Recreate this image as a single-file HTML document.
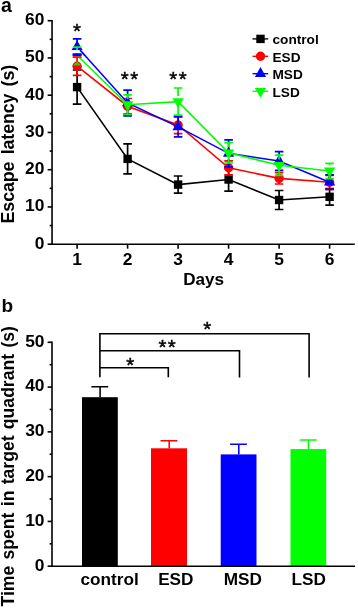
<!DOCTYPE html>
<html><head><meta charset="utf-8"><title>Figure</title>
<style>
html,body{margin:0;padding:0;background:#fff;}
svg{display:block;font-family:"Liberation Sans", sans-serif;}
</style></head><body>
<svg width="358" height="609" viewBox="0 0 358 609">
<rect width="358" height="609" fill="#fff"/>
<g stroke="#000" stroke-width="1.6" fill="none" stroke-linecap="butt">
<path d="M52.05 19.90V245.0"/>
<path d="M51.25 244.2H354.8"/>
<path d="M47.65 244.20H52.05"/>
<path d="M47.65 206.95H52.05"/>
<path d="M47.65 169.70H52.05"/>
<path d="M47.65 132.45H52.05"/>
<path d="M47.65 95.20H52.05"/>
<path d="M47.65 57.95H52.05"/>
<path d="M47.65 20.70H52.05"/>
<path d="M49.65 225.57H52.05"/>
<path d="M49.65 188.32H52.05"/>
<path d="M49.65 151.07H52.05"/>
<path d="M49.65 113.82H52.05"/>
<path d="M49.65 76.57H52.05"/>
<path d="M49.65 39.32H52.05"/>
<path d="M77.1 244.2V248.7"/>
<path d="M127.6 244.2V248.7"/>
<path d="M178.1 244.2V248.7"/>
<path d="M228.6 244.2V248.7"/>
<path d="M279.1 244.2V248.7"/>
<path d="M329.6 244.2V248.7"/>
</g>
<text x="44.4" y="248.6" font-size="17.4" font-weight="bold" text-anchor="end" fill="#000">0</text>
<text x="44.4" y="211.35" font-size="17.4" font-weight="bold" text-anchor="end" fill="#000">10</text>
<text x="44.4" y="174.1" font-size="17.4" font-weight="bold" text-anchor="end" fill="#000">20</text>
<text x="44.4" y="136.85" font-size="17.4" font-weight="bold" text-anchor="end" fill="#000">30</text>
<text x="44.4" y="99.6" font-size="17.4" font-weight="bold" text-anchor="end" fill="#000">40</text>
<text x="44.4" y="62.35" font-size="17.4" font-weight="bold" text-anchor="end" fill="#000">50</text>
<text x="44.4" y="25.1" font-size="17.4" font-weight="bold" text-anchor="end" fill="#000">60</text>
<text x="77.1" y="265.0" font-size="17.4" font-weight="bold" text-anchor="middle" fill="#000">1</text>
<text x="127.6" y="265.0" font-size="17.4" font-weight="bold" text-anchor="middle" fill="#000">2</text>
<text x="178.1" y="265.0" font-size="17.4" font-weight="bold" text-anchor="middle" fill="#000">3</text>
<text x="228.6" y="265.0" font-size="17.4" font-weight="bold" text-anchor="middle" fill="#000">4</text>
<text x="279.1" y="265.0" font-size="17.4" font-weight="bold" text-anchor="middle" fill="#000">5</text>
<text x="329.6" y="265.0" font-size="17.4" font-weight="bold" text-anchor="middle" fill="#000">6</text>
<text x="203.6" y="285.3" font-size="17.1" font-weight="bold" text-anchor="middle" fill="#000">Days</text>
<text x="14.3" y="144.2" font-size="17.9" font-weight="bold" text-anchor="middle" fill="#000" transform="rotate(-90 14.3 144.2)" letter-spacing="-0.13" word-spacing="2.4">Escape latency (s)</text>
<text x="1.1" y="11.5" font-size="19.5" font-weight="bold" text-anchor="start" fill="#000">a</text>
<polyline points="77.10,87.10 127.60,158.90 178.10,184.60 228.60,179.50 279.10,200.00 329.60,196.80" stroke="#000" stroke-width="1.6" fill="none"/>
<g stroke="#000" stroke-width="1.7" fill="none">
<path d="M77.10 70.00V87.10M77.10 87.10V104.20M72.80 70.00h8.6M72.80 104.20h8.6"/>
<path d="M127.60 143.90V158.90M127.60 158.90V173.90M123.30 143.90h8.6M123.30 173.90h8.6"/>
<path d="M178.10 176.00V184.60M178.10 184.60V193.20M173.80 176.00h8.6M173.80 193.20h8.6"/>
<path d="M228.60 167.80V179.50M228.60 179.50V191.20M224.30 167.80h8.6M224.30 191.20h8.6"/>
<path d="M279.10 190.50V200.00M279.10 200.00V209.50M274.80 190.50h8.6M274.80 209.50h8.6"/>
<path d="M329.60 188.50V196.80M329.60 196.80V205.10M325.30 188.50h8.6M325.30 205.10h8.6"/>
</g>
<rect x="72.90" y="82.90" width="8.4" height="8.4" fill="#000"/>
<rect x="123.40" y="154.70" width="8.4" height="8.4" fill="#000"/>
<rect x="173.90" y="180.40" width="8.4" height="8.4" fill="#000"/>
<rect x="224.40" y="175.30" width="8.4" height="8.4" fill="#000"/>
<rect x="274.90" y="195.80" width="8.4" height="8.4" fill="#000"/>
<rect x="325.40" y="192.60" width="8.4" height="8.4" fill="#000"/>
<polyline points="77.10,66.20 127.60,106.20 178.10,125.00 228.60,167.80 279.10,178.35 329.60,182.30" stroke="#f00" stroke-width="1.6" fill="none"/>
<g stroke="#f00" stroke-width="1.7" fill="none">
<path d="M77.10 57.10V66.20M77.10 66.20V75.30M72.80 57.10h8.6M72.80 75.30h8.6"/>
<path d="M127.60 98.50V106.20M127.60 106.20V113.90M123.30 98.50h8.6M123.30 113.90h8.6"/>
<path d="M178.10 116.40V125.00M178.10 125.00V133.60M173.80 116.40h8.6M173.80 133.60h8.6"/>
<path d="M228.60 160.80V167.80M228.60 167.80V174.80M224.30 160.80h8.6M224.30 174.80h8.6"/>
<path d="M279.10 172.70V178.35M279.10 178.35V184.00M274.80 172.70h8.6M274.80 184.00h8.6"/>
<path d="M329.60 175.30V182.30M329.60 182.30V189.30M325.30 175.30h8.6M325.30 189.30h8.6"/>
</g>
<circle cx="77.10" cy="66.20" r="4.7" fill="#f00"/>
<circle cx="127.60" cy="106.20" r="4.7" fill="#f00"/>
<circle cx="178.10" cy="125.00" r="4.7" fill="#f00"/>
<circle cx="228.60" cy="167.80" r="4.7" fill="#f00"/>
<circle cx="279.10" cy="178.35" r="4.7" fill="#f00"/>
<circle cx="329.60" cy="182.30" r="4.7" fill="#f00"/>
<polyline points="77.10,46.80 127.60,102.95 178.10,126.90 228.60,153.35 279.10,161.00 329.60,182.15" stroke="#00f" stroke-width="1.6" fill="none"/>
<g stroke="#00f" stroke-width="1.7" fill="none">
<path d="M77.10 38.90V46.80M77.10 52.50V54.70M72.80 38.90h8.6M72.80 54.70h8.6"/>
<path d="M127.60 90.10V102.95M127.60 108.65V115.80M123.30 90.10h8.6M123.30 115.80h8.6"/>
<path d="M178.10 116.90V126.90M178.10 132.60V136.90M173.80 116.90h8.6M173.80 136.90h8.6"/>
<path d="M228.60 139.80V153.35M228.60 159.05V166.90M224.30 139.80h8.6M224.30 166.90h8.6"/>
<path d="M279.10 151.70V161.00M279.10 166.70V170.30M274.80 151.70h8.6M274.80 170.30h8.6"/>
<path d="M329.60 174.80V182.15M329.60 187.85V189.50M325.30 174.80h8.6M325.30 189.50h8.6"/>
</g>
<path d="M77.10 40.20L82.70 50.20H71.50Z" fill="#00f"/>
<path d="M127.60 96.35L133.20 106.35H122.00Z" fill="#00f"/>
<path d="M178.10 120.30L183.70 130.30H172.50Z" fill="#00f"/>
<path d="M228.60 146.75L234.20 156.75H223.00Z" fill="#00f"/>
<path d="M279.10 154.40L284.70 164.40H273.50Z" fill="#00f"/>
<path d="M329.60 175.55L335.20 185.55H324.00Z" fill="#00f"/>
<polyline points="77.10,55.30 127.60,104.70 178.10,101.60 228.60,152.80 279.10,165.30 329.60,171.00" stroke="#0f0" stroke-width="1.6" fill="none"/>
<g stroke="#0f0" stroke-width="1.7" fill="none">
<path d="M77.10 47.10V50M72.80 47.10h8.6"/>
<path d="M127.60 94.90V99.00M127.60 104.70V114.50M123.30 94.90h8.6M123.30 114.50h8.6"/>
<path d="M178.10 88.00V95.90M178.10 101.60V115.20M173.80 88.00h8.6M173.80 115.20h8.6"/>
<path d="M228.60 142.60V147.10M228.60 152.80V163.00M224.30 142.60h8.6M224.30 163.00h8.6"/>
<path d="M279.10 155.20V159.60M279.10 165.30V175.40M274.80 155.20h8.6M274.80 175.40h8.6"/>
<path d="M329.60 163.40V165.30M329.60 171.00V178.60M325.30 163.40h8.6M325.30 178.60h8.6"/>
</g>
<path d="M127.60 111.20L133.30 101.30H121.90Z" fill="#0f0"/>
<path d="M178.10 108.10L183.80 98.20H172.40Z" fill="#0f0"/>
<path d="M228.60 159.30L234.30 149.40H222.90Z" fill="#0f0"/>
<path d="M279.10 171.80L284.80 161.90H273.40Z" fill="#0f0"/>
<path d="M329.60 177.50L335.30 167.60H323.90Z" fill="#0f0"/>
<rect x="71.50" y="50.3" width="10.6" height="3" fill="#fff"/>
<path d="M72.60 53.3H81.60V56H72.60Z" fill="#00f"/>
<path d="M80.10 50.2L85.10 55.8" stroke="#00f" stroke-width="1.6"/>
<path d="M72.80 57.1h8.6" stroke="#e02000" stroke-width="1.5"/>
<path d="M77.10 61.6L80.50 64.6L80.50 65.4H73.70V64.6Z" fill="#3c0"/>
<text x="77" y="37.6" font-size="20.5" font-weight="normal" text-anchor="middle" fill="#000" stroke="#000" stroke-width="0.45">*</text>
<text x="124.8" y="85.8" font-size="20.5" font-weight="normal" text-anchor="middle" fill="#000" stroke="#000" stroke-width="0.45">*</text>
<text x="134.2" y="85.8" font-size="20.5" font-weight="normal" text-anchor="middle" fill="#000" stroke="#000" stroke-width="0.45">*</text>
<text x="173.3" y="85.8" font-size="20.5" font-weight="normal" text-anchor="middle" fill="#000" stroke="#000" stroke-width="0.45">*</text>
<text x="182.7" y="85.8" font-size="20.5" font-weight="normal" text-anchor="middle" fill="#000" stroke="#000" stroke-width="0.45">*</text>
<path d="M252.5 38.9H268.2" stroke="#000" stroke-width="1.35"/>
<rect x="256.30" y="34.70" width="8.4" height="8.4" fill="#000"/>
<text x="272.5" y="44.1" font-size="13.65" font-weight="bold" text-anchor="start" fill="#000">control</text>
<path d="M252.5 56.3H268.2" stroke="#f00" stroke-width="1.35"/>
<circle cx="260.50" cy="56.30" r="4.7" fill="#f00"/>
<text x="272.5" y="61.5" font-size="13.65" font-weight="bold" text-anchor="start" fill="#000">ESD</text>
<path d="M252.5 73.7H268.2" stroke="#00f" stroke-width="1.35"/>
<path d="M260.50 67.10L266.10 77.10H254.90Z" fill="#00f"/>
<text x="272.5" y="78.9" font-size="13.65" font-weight="bold" text-anchor="start" fill="#000">MSD</text>
<path d="M252.5 91.3H268.2" stroke="#0f0" stroke-width="1.35"/>
<path d="M260.50 97.80L266.20 87.90H254.80Z" fill="#0f0"/>
<text x="272.5" y="96.5" font-size="13.65" font-weight="bold" text-anchor="start" fill="#000">LSD</text>
<g stroke="#000" stroke-width="1.6" fill="none">
<path d="M52.0 341.50V567.0"/>
<path d="M47.6 566.20H52.0"/>
<path d="M47.6 521.42H52.0"/>
<path d="M47.6 476.64H52.0"/>
<path d="M47.6 431.86H52.0"/>
<path d="M47.6 387.08H52.0"/>
<path d="M47.6 342.30H52.0"/>
<path d="M49.6 543.81H52.0"/>
<path d="M49.6 499.03H52.0"/>
<path d="M49.6 454.25H52.0"/>
<path d="M49.6 409.47H52.0"/>
<path d="M49.6 364.69H52.0"/>
</g>
<text x="44.5" y="570.6" font-size="17.4" font-weight="bold" text-anchor="end" fill="#000">0</text>
<text x="44.5" y="525.82" font-size="17.4" font-weight="bold" text-anchor="end" fill="#000">10</text>
<text x="44.5" y="481.04" font-size="17.4" font-weight="bold" text-anchor="end" fill="#000">20</text>
<text x="44.5" y="436.26" font-size="17.4" font-weight="bold" text-anchor="end" fill="#000">30</text>
<text x="44.5" y="391.48" font-size="17.4" font-weight="bold" text-anchor="end" fill="#000">40</text>
<text x="44.5" y="346.7" font-size="17.4" font-weight="bold" text-anchor="end" fill="#000">50</text>
<rect x="82.0" y="397.2" width="35.80" height="169.00" fill="#000"/>
<path d="M100.10 397.2V386.8M91.40 386.8h16.8" stroke="#000" stroke-width="1.55" fill="none"/>
<rect x="151.0" y="448.3" width="36.00" height="117.90" fill="#f00"/>
<path d="M169.20 448.3V440.8M160.50 440.8h16.8" stroke="#f00" stroke-width="1.55" fill="none"/>
<rect x="220.7" y="454.4" width="35.80" height="111.80" fill="#00f"/>
<path d="M238.80 454.4V444.3M230.10 444.3h16.8" stroke="#00f" stroke-width="1.55" fill="none"/>
<rect x="290.5" y="449.1" width="35.70" height="117.10" fill="#0f0"/>
<path d="M308.55 449.1V439.9M299.85 439.9h16.8" stroke="#0f0" stroke-width="1.55" fill="none"/>
<path d="M51.2 566.2H355" stroke="#000" stroke-width="1.6"/>
<text x="109.6" y="584.6" font-size="17.2" font-weight="bold" text-anchor="middle" fill="#000">control</text>
<text x="175.8" y="584.6" font-size="17.2" font-weight="bold" text-anchor="middle" fill="#000">ESD</text>
<text x="242.9" y="584.6" font-size="17.2" font-weight="bold" text-anchor="middle" fill="#000">MSD</text>
<text x="308.8" y="584.6" font-size="17.2" font-weight="bold" text-anchor="middle" fill="#000">LSD</text>
<text x="14.0" y="466.3" font-size="17.6" font-weight="bold" text-anchor="middle" fill="#000" transform="rotate(-90 14.0 466.3)" word-spacing="1.4">Time spent in target quadrant (s)</text>
<text x="1.6" y="312.2" font-size="19" font-weight="bold" text-anchor="start" fill="#000">b</text>
<text x="130.2" y="372.3" font-size="20.5" font-weight="normal" text-anchor="middle" fill="#000" stroke="#000" stroke-width="0.45">*</text>
<text x="162.4" y="354.0" font-size="20.5" font-weight="normal" text-anchor="middle" fill="#000" stroke="#000" stroke-width="0.45">*</text>
<text x="171.8" y="354.0" font-size="20.5" font-weight="normal" text-anchor="middle" fill="#000" stroke="#000" stroke-width="0.45">*</text>
<text x="207.2" y="335.9" font-size="20.5" font-weight="normal" text-anchor="middle" fill="#000" stroke="#000" stroke-width="0.45">*</text>
<g stroke="#000" stroke-width="1.6" fill="none">
<path d="M99.9 377.2V333.7H309.1V377.6"/>
<path d="M99.9 350.8H239.5V377.6"/>
<path d="M99.9 367.7H168.3V377.2"/>
</g>
</svg>
</body></html>
